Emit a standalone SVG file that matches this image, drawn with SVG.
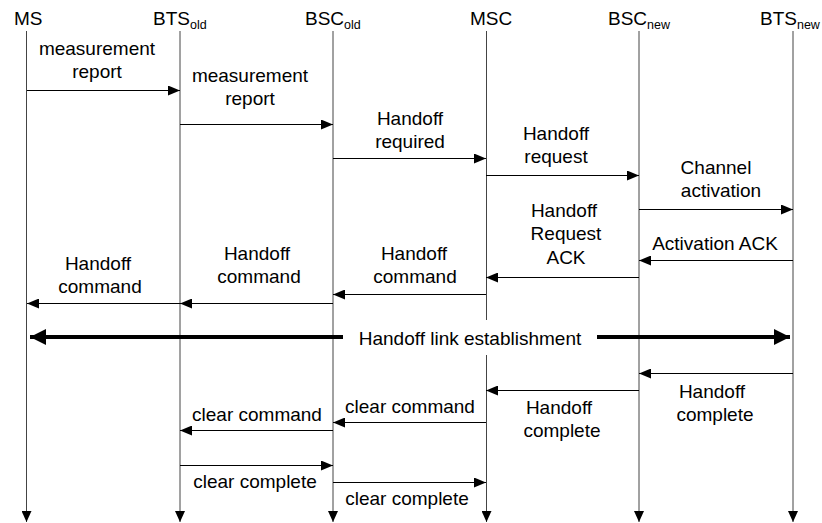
<svg xmlns="http://www.w3.org/2000/svg" width="822" height="523" viewBox="0 0 822 523">
<style>
text{font-family:"Liberation Sans",Arial,sans-serif;font-size:19px;fill:#000}
.lbl{text-anchor:middle}
.sub{font-size:12.5px}
.life{stroke:#444;stroke-width:1;fill:none}
.msg{stroke:#000;stroke-width:1;fill:none;marker-end:url(#ah)}
.thick{stroke:#000;stroke-width:4;fill:none}
</style>
<defs>
<marker id="ah" markerWidth="12" markerHeight="10" refX="12" refY="5" orient="auto" markerUnits="userSpaceOnUse"><path d="M0,0 L12,5 L0,10 z" fill="#000"/></marker>
<marker id="lh" markerWidth="10" markerHeight="11" refX="5" refY="11" orient="0" markerUnits="userSpaceOnUse"><path d="M0,0 L10,0 L5,11 z" fill="#000"/></marker>
<marker id="big" markerWidth="16" markerHeight="16" refX="16" refY="8" orient="auto" markerUnits="userSpaceOnUse"><path d="M0,0 L16,8 L0,16 z" fill="#000"/></marker>
</defs>
<rect width="822" height="523" fill="#fff"/>

<g id="MS"><text x="14" y="25">MS</text><line class="life" x1="26.5" y1="31" x2="26.5" y2="522" marker-end="url(#lh)"/></g>
<g id="BTSold"><text x="153" y="25">BTS<tspan class="sub" dy="4">old</tspan></text><line class="life" x1="180" y1="31" x2="180" y2="522" marker-end="url(#lh)"/></g>
<g id="BSCold"><text x="305" y="25">BSC<tspan class="sub" dy="4">old</tspan></text><line class="life" x1="333" y1="31" x2="333" y2="522" marker-end="url(#lh)"/></g>
<g id="MSC"><text x="470" y="25">MSC</text><line class="life" x1="486.5" y1="31" x2="486.5" y2="320"/><line class="life" x1="486.5" y1="355" x2="486.5" y2="522" marker-end="url(#lh)"/></g>
<g id="BSCnew"><text x="608" y="25">BSC<tspan class="sub" dy="4">new</tspan></text><line class="life" x1="639" y1="31" x2="639" y2="522" marker-end="url(#lh)"/></g>
<g id="BTSnew"><text x="760" y="25">BTS<tspan class="sub" dy="4">new</tspan></text><line class="life" x1="793" y1="31" x2="793" y2="522" marker-end="url(#lh)"/></g>

<g id="connectors">
<line class="msg" x1="27" y1="90.5" x2="180" y2="90.5"/>
<line class="msg" x1="180" y1="124.5" x2="333" y2="124.5"/>
<line class="msg" x1="333" y1="158.5" x2="486" y2="158.5"/>
<line class="msg" x1="486" y1="175.5" x2="639" y2="175.5"/>
<line class="msg" x1="639" y1="209.5" x2="793" y2="209.5"/>
<line class="msg" x1="793" y1="260.5" x2="639" y2="260.5"/>
<line class="msg" x1="639" y1="277.5" x2="486" y2="277.5"/>
<line class="msg" x1="486" y1="294.5" x2="333" y2="294.5"/>
<line class="msg" x1="333" y1="303.5" x2="180" y2="303.5"/>
<line class="msg" x1="180" y1="303.5" x2="27" y2="303.5"/>
<line class="thick" x1="343" y1="337" x2="30" y2="337" marker-end="url(#big)"/>
<line class="thick" x1="597" y1="337" x2="790" y2="337" marker-end="url(#big)"/>
<line class="msg" x1="793" y1="373.5" x2="639" y2="373.5"/>
<line class="msg" x1="639" y1="390.5" x2="486" y2="390.5"/>
<line class="msg" x1="486" y1="422.5" x2="333" y2="422.5"/>
<line class="msg" x1="333" y1="430.5" x2="180" y2="430.5"/>
<line class="msg" x1="180" y1="465.5" x2="333" y2="465.5"/>
<line class="msg" x1="333" y1="482.5" x2="486" y2="482.5"/>

<text class="lbl" x="97" y="55">measurement</text><text class="lbl" x="97" y="78">report</text>
<text class="lbl" x="250" y="82">measurement</text><text class="lbl" x="250" y="105">report</text>
<text class="lbl" x="410" y="125">Handoff</text><text class="lbl" x="410" y="148">required</text>
<text class="lbl" x="556" y="140">Handoff</text><text class="lbl" x="556" y="163">request</text>
<text class="lbl" x="716" y="174">Channel</text><text class="lbl" x="721" y="197">activation</text>
<text class="lbl" x="715" y="250">Activation ACK</text>
<text class="lbl" x="564" y="217">Handoff</text><text class="lbl" x="566" y="240">Request</text><text class="lbl" x="566" y="264">ACK</text>
<text class="lbl" x="414" y="260">Handoff</text><text class="lbl" x="415" y="283">command</text>
<text class="lbl" x="257" y="260">Handoff</text><text class="lbl" x="259" y="283">command</text>
<text class="lbl" x="98" y="270">Handoff</text><text class="lbl" x="100" y="293">command</text>
<text class="lbl" x="470" y="345">Handoff link establishment</text>
<text class="lbl" x="712" y="398">Handoff</text><text class="lbl" x="715" y="421">complete</text>
<text class="lbl" x="559" y="414">Handoff</text><text class="lbl" x="562" y="437">complete</text>
<text class="lbl" x="410" y="413">clear command</text>
<text class="lbl" x="257" y="421">clear command</text>
<text class="lbl" x="255" y="488">clear complete</text>
<text class="lbl" x="407" y="505">clear complete</text>
</g>
</svg>
